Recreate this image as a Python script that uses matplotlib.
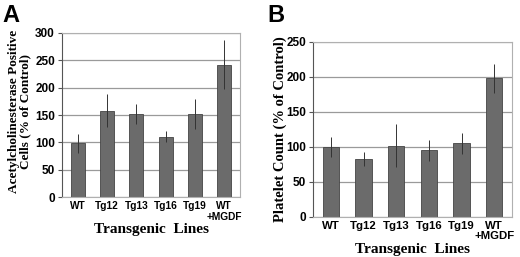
import matplotlib.pyplot as plt
import numpy as np

# Shared categories
lines = ["WT", "Tg12", "Tg13", "Tg16", "Tg19", "WT\n+MGDF"]

# Panel A: acetylcholinesterase positive cells (% of control)
ache_mean = [98, 158, 152, 110, 152, 242]
ache_err = [17, 30, 18, 10, 28, 45]

# Panel B: platelet count (% of control)
plt_mean = [100, 83, 102, 95, 105, 198]
plt_err = [14, 10, 31, 15, 15, 21]

serif = ["Liberation Serif", "DejaVu Serif"]
sans = ["Liberation Sans", "DejaVu Sans"]
bar_col = "#6b6b6b"


def draw_panel(ax, means, errs, ymax, ylabel, width, ylsize, tsize):
    x = np.arange(len(lines))
    ax.set_axisbelow(True)
    ax.yaxis.grid(True, color="#9a9a9a", linewidth=0.9)
    ax.bar(x, means, width=width, color=bar_col, edgecolor="#444444",
           linewidth=0.6, yerr=errs, ecolor="#333333",
           error_kw=dict(elinewidth=0.7, capsize=0))
    ax.set_xlim(-0.55, len(lines) - 0.45)
    ax.set_ylim(0, ymax)
    ax.set_yticks(np.arange(0, ymax + 1, 50))
    ax.set_xticks(x)
    ax.set_xticklabels(lines, family=sans, fontweight="bold", fontsize=tsize,
                       linespacing=1.05)
    for t in ax.get_yticklabels():
        t.set_family(sans)
        t.set_fontweight("bold")
        t.set_fontsize(8.5)
    for s in ax.spines.values():
        s.set_color("#b0b0b0")
        s.set_linewidth(0.8)
    ax.spines["left"].set_color("#555555")
    ax.tick_params(axis="x", length=0, pad=3)
    ax.tick_params(axis="y", length=3, color="#555555", pad=2)
    ax.set_xlabel("Transgenic  Lines", family=serif, fontweight="bold",
                  fontsize=11, labelpad=1)
    ax.set_ylabel(ylabel, family=serif, fontweight="bold", fontsize=ylsize,
                  linespacing=0.95)


fig = plt.figure(figsize=(5.2, 2.57), dpi=100)

ax1 = fig.add_axes([0.119, 0.233, 0.343, 0.639])
draw_panel(ax1, ache_mean, ache_err, 300,
           "Acetylcholinesterase Positive\nCells (% of Control)", 0.48,
           9.5, 7.3)
ax1.yaxis.set_label_coords(-0.17, 0.52)

ax2 = fig.add_axes([0.602, 0.156, 0.383, 0.681])
draw_panel(ax2, plt_mean, plt_err, 250,
           "Platelet Count (% of Control)", 0.5, 10.5, 8.2)
ax2.yaxis.set_label_coords(-0.13, 0.5)

fig.text(0.005, 0.985, "A", family=sans, fontweight="bold", fontsize=17,
         va="top")
fig.text(0.515, 0.985, "B", family=sans, fontweight="bold", fontsize=17,
         va="top")

fig.savefig("out.png", dpi=100)
